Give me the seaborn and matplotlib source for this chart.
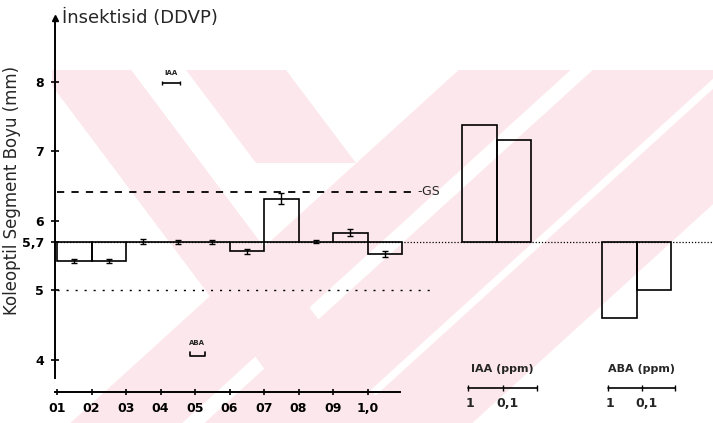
import numpy as np
import pandas as pd
import matplotlib
matplotlib.use('Agg')
import matplotlib.pyplot as plt
import seaborn as sns
from matplotlib.patches import Polygon, Rectangle

# values (mm)
control = 5.7
gs_level = 6.42
low_level = 5.0

ddvp_doses = ['01', '02', '03', '04', '05', '06', '07', '08', '09', '1,0']
ddvp_values = [5.42, 5.42, 5.70, 5.70, 5.70, 5.56, 6.32, 5.70, 5.83, 5.52]
ddvp_err = [0.03, 0.03, 0.04, 0.03, 0.03, 0.03, 0.08, 0.02, 0.05, 0.04]

iaa_doses = ['1', '0,1']
iaa_values = [7.38, 7.16]

aba_doses = ['1', '0,1']
aba_values = [4.61, 5.01]

y_ticks = [4, 5, 5.7, 6, 7, 8]
y_ticklabels = ['4', '5', '5,7', '6', '7', '8']

sns.set_theme(style='white')
plt.rcParams['font.family'] = ['DejaVu Sans']

fig = plt.figure(figsize=(7.13, 4.23), dpi=100)

# faint pink watermark of the scanned page (pixel coordinates)
bg = fig.add_axes([0, 0, 1, 1], zorder=-10)
bg.set_xlim(0, 713)
bg.set_ylim(423, 0)
bg.axis('off')
pink = '#fce8ec'


def band(xl, xr, slope, y0=70, y1=423, yref=107):
    return [(xl + slope * (y0 - yref), y0), (xr + slope * (y0 - yref), y0),
            (xr + slope * (y1 - yref), y1), (xl + slope * (y1 - yref), y1)]


shapes = [band(68, 159, 0.75),
          [(186, 70), (286, 70), (356, 163), (256, 163)],
          band(418, 530, -1.1), band(552, 682, -1.1), band(693, 820, -1.1)]
clip = Rectangle((52, 70), 661, 353, transform=bg.transData)
for pts in shapes:
    poly = Polygon(pts, closed=True, facecolor=pink, edgecolor='none')
    bg.add_patch(poly)
    poly.set_clip_path(clip)

# main axes, y drawn relative to the control (5,7 mm)
ax = fig.add_axes([55 / 713, 31 / 423, 658 / 713, 382 / 423])
ax.set_facecolor('none')

centers = list(np.arange(len(ddvp_values)) + 0.5) + [12.25, 13.25] + [16.3, 17.3]
values = ddvp_values + iaa_values + aba_values
df = pd.DataFrame({'pos': centers, 'diff': np.array(values) - control})

sns.barplot(data=df, x='pos', y='diff', native_scale=True, fill=False,
            color='black', width=1, linewidth=1.2, errorbar=None, ax=ax, zorder=3)

ddvp_diff = np.array(ddvp_values) - control
ax.errorbar(np.arange(len(ddvp_values)) + 0.5, ddvp_diff, yerr=ddvp_err,
            fmt='none', ecolor='black', elinewidth=1, capsize=2.5, zorder=4)

# reference lines
ax.plot([0, 19], [0, 0], color='black', lw=0.9, ls=(0, (1, 1.5)), zorder=2)
ax.plot([0, 10.38], [gs_level - control] * 2, color='black', lw=1.3, ls=(0, (4, 4)))
ax.text(10.45, gs_level - control, '-GS', fontsize=9, va='center', ha='left')
ax.plot([0, 10.96], [low_level - control] * 2, color='black', lw=1, ls=(0, (1.5, 5)))

# small IAA / ABA marks inside the plot
ax.text(3.3, 2.42, 'IAA', fontsize=5, ha='center', va='center', fontweight='bold')
ax.errorbar(3.3, 2.28, xerr=0.25, fmt='none', ecolor='black', elinewidth=1.2, capsize=1.5)
ax.text(4.06, -1.46, 'ABA', fontsize=5, ha='center', va='center', fontweight='bold')
ax.plot([3.86, 3.86, 4.29, 4.29], [-1.59, -1.64, -1.64, -1.59], color='black', lw=1.2)

# separate dose scales for IAA and ABA
for xs, doses, title in [((11.91, 12.91, 13.91), iaa_doses, 'IAA (ppm)'),
                         ((15.97, 16.94, 17.91), aba_doses, 'ABA (ppm)')]:
    ax.plot(xs, [-2.10] * 3, color='black', lw=1.2, marker='|', markersize=5)
    ax.text(xs[1], -1.83, title, fontsize=8, ha='center', va='center', fontweight='bold')
    ax.text(xs[0] + 0.06, -2.32, doses[0], fontsize=9, ha='center', va='center',
            fontweight='bold', clip_on=False)
    ax.text(xs[1] + 0.15, -2.32, doses[1], fontsize=9, ha='center', va='center',
            fontweight='bold', clip_on=False)

ax.set_xlim(-0.058, 19.01)
ax.set_ylim(3.54 - control, 9.03 - control)
sns.despine(ax=ax)
ax.spines['left'].set_bounds(3.74 - control, 8.91 - control)
ax.spines['bottom'].set_bounds(-0.058, 9.94)
for side in ['left', 'bottom']:
    ax.spines[side].set_color('black')
    ax.spines[side].set_linewidth(1.4)
ax.plot([-0.058], [8.91 - control], marker='^', color='black', markersize=4, clip_on=False)

ax.set_yticks([t - control for t in y_ticks], y_ticklabels)
ax.set_xticks(np.arange(len(ddvp_doses)), ddvp_doses)
ax.tick_params(axis='y', direction='inout', length=6, width=1.2, labelsize=9, pad=5,
               left=True, colors='black')
ax.tick_params(axis='x', direction='inout', length=5, width=1.2, labelsize=9, pad=5,
               bottom=True, colors='black')
for lab in ax.get_xticklabels() + ax.get_yticklabels():
    lab.set_fontweight('bold')
ax.set_xlabel('')
ax.set_ylabel('')
ax.grid(False)

fig.text(12 / 713, 0.55, 'Koleoptil Segment Boyu (mm)', rotation=90, fontsize=12,
         ha='center', va='center')
fig.text(62 / 713, 1 - 18 / 423, 'İnsektisid (DDVP)', fontsize=13, ha='left', va='center')

fig.savefig('out.png', dpi=100)
